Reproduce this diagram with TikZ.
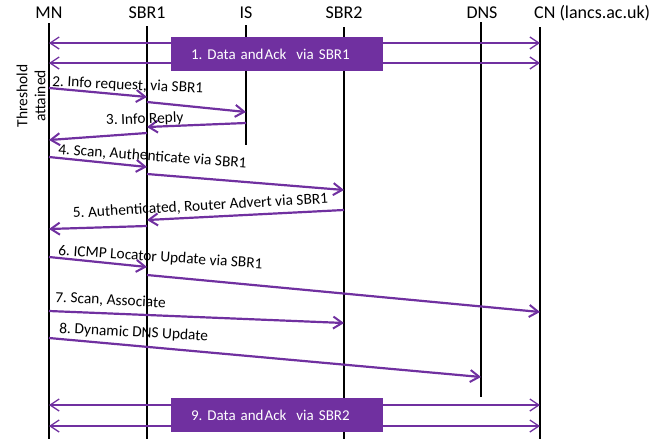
\documentclass[tikz,border=0pt]{standalone}
\usepackage{fontspec}
\setmainfont{Carlito}
\usetikzlibrary{arrows.meta}
\definecolor{vio}{HTML}{7030A0}
\frenchspacing
\begin{document}
\begin{tikzpicture}[x=1pt,y=-1pt,
  head/.style={font=\fontsize{18}{18}\selectfont,anchor=base,inner sep=0pt},
  life/.style={draw=black,line width=1.4pt},
  msg/.style={draw=vio,line width=2.2pt,-{Straight Barb[length=9pt,width=12pt,line width=2pt]}},
  data/.style={draw=vio,line width=1.4pt,{Straight Barb[length=9pt,width=12pt,line width=1.3pt]}-{Straight Barb[length=9pt,width=12pt,line width=1.3pt]}},
  lbl/.style={font=\fontsize{15.4}{15.4}\selectfont,anchor=base west,inner sep=0pt},
  box/.style={fill=vio,draw=none,minimum width=212pt,minimum height=34pt,text=white,font=\fontsize{15}{15}\selectfont,inner sep=0pt,text width=192pt,align=left}]
\useasboundingbox (0,0) rectangle (668,439);
% lifeline heads
\node[head] (MN) at (49,18) {MN};
\node[head] (SBR1) at (147,18) {SBR1};
\node[head] (IS) at (246,18) {IS};
\node[head] (SBR2) at (344,18) {SBR2};
\node[head] (DNS) at (482,18) {DNS};
\node[head,anchor=base west] (CN) at (534,18) {CN (lancs.ac.uk)};
% lifeline ends
\coordinate (MNt) at (49,23); \coordinate (MNb) at (49,439);
\coordinate (S1t) at (147,26); \coordinate (S1b) at (147,439);
\coordinate (ISt) at (246,25); \coordinate (ISb) at (246,145);
\coordinate (S2t) at (344,27); \coordinate (S2b) at (344,439);
\coordinate (DNt) at (481,22); \coordinate (DNb) at (481,397);
\coordinate (CNt) at (540,27); \coordinate (CNb) at (540,439);
\draw[life] (MNt) -- (MNb);
\draw[life] (S1t) -- (S1b);
\draw[life] (ISt) -- (ISb);
\draw[life] (S2t) -- (S2b);
\draw[life,line width=1.2pt] (DNt) -- (DNb);
\draw[life] (CNt) -- (CNb);
% threshold
\node[font=\fontsize{15.5}{18}\selectfont,rotate=90,align=center,inner sep=0pt] (thr) at (31,96) {Threshold\\attained};
% data exchanges
\coordinate (d1a) at (49,43); \coordinate (d1b) at (540,43);
\coordinate (d2a) at (49,63); \coordinate (d2b) at (540,63);
\draw[data] (d1a) -- (d1b);
\draw[data] (d2a) -- (d2b);
\node[box] (box1) at (277,54) {\hspace*{10pt}1. Data and\kern1pt Ack\ \ via SBR1};
\coordinate (d3a) at (49,405); \coordinate (d3b) at (540,405);
\coordinate (d4a) at (49,426); \coordinate (d4b) at (540,426);
\draw[data] (d3a) -- (d3b);
\draw[data] (d4a) -- (d4b);
\node[box] (box9) at (277,415) {\hspace*{10pt}9. Data and\kern1pt Ack\ \ via SBR2};
% message 2
\coordinate (m2a) at (49,88); \coordinate (m2b) at (147,97);
\coordinate (m2c) at (147,102); \coordinate (m2d) at (246,112);
\draw[msg] (m2a) -- (m2b);
\draw[msg] (m2c) -- (m2d);
\node[lbl,rotate=-2.7] (l2) at (52,86) {2. Info request, via SBR1};
% message 3
\coordinate (m3a) at (246,123); \coordinate (m3b) at (147,127);
\coordinate (m3c) at (147,133); \coordinate (m3d) at (49,140);
\draw[msg] (m3a) -- (m3b);
\draw[msg] (m3c) -- (m3d);
\node[lbl,rotate=2] (l3) at (106,125) {3. Info Reply};
% message 4
\coordinate (m4a) at (49,157); \coordinate (m4b) at (147,167);
\coordinate (m4c) at (147,174); \coordinate (m4d) at (344,190);
\draw[msg] (m4a) -- (m4b);
\draw[msg] (m4c) -- (m4d);
\node[lbl,rotate=-4.2] (l4) at (58,154) {4. Scan, Authenticate via SBR1};
% message 5
\coordinate (m5a) at (344,210); \coordinate (m5b) at (147,220);
\coordinate (m5c) at (147,226); \coordinate (m5d) at (49,229);
\draw[msg] (m5a) -- (m5b);
\draw[msg] (m5c) -- (m5d);
\node[lbl,rotate=3.3] (l5) at (73,218) {5. Authenticated, Router Advert via SBR1};
% message 6
\coordinate (m6a) at (49,257); \coordinate (m6b) at (147,267);
\coordinate (m6c) at (147,275); \coordinate (m6d) at (540,312);
\draw[msg] (m6a) -- (m6b);
\draw[msg] (m6c) -- (m6d);
\node[lbl,rotate=-3.8] (l6) at (58,255) {6. ICMP Locator Update via SBR1};
% message 7
\coordinate (m7a) at (49,311); \coordinate (m7b) at (344,323);
\draw[msg] (m7a) -- (m7b);
\node[lbl,rotate=-3] (l7) at (55,302) {7. Scan, Associate};
% message 8
\coordinate (m8a) at (49,338); \coordinate (m8b) at (481,377);
\draw[msg] (m8a) -- (m8b);
\node[lbl,rotate=-3] (l8) at (59,333) {8. Dynamic DNS Update};
\end{tikzpicture}
\end{document}
